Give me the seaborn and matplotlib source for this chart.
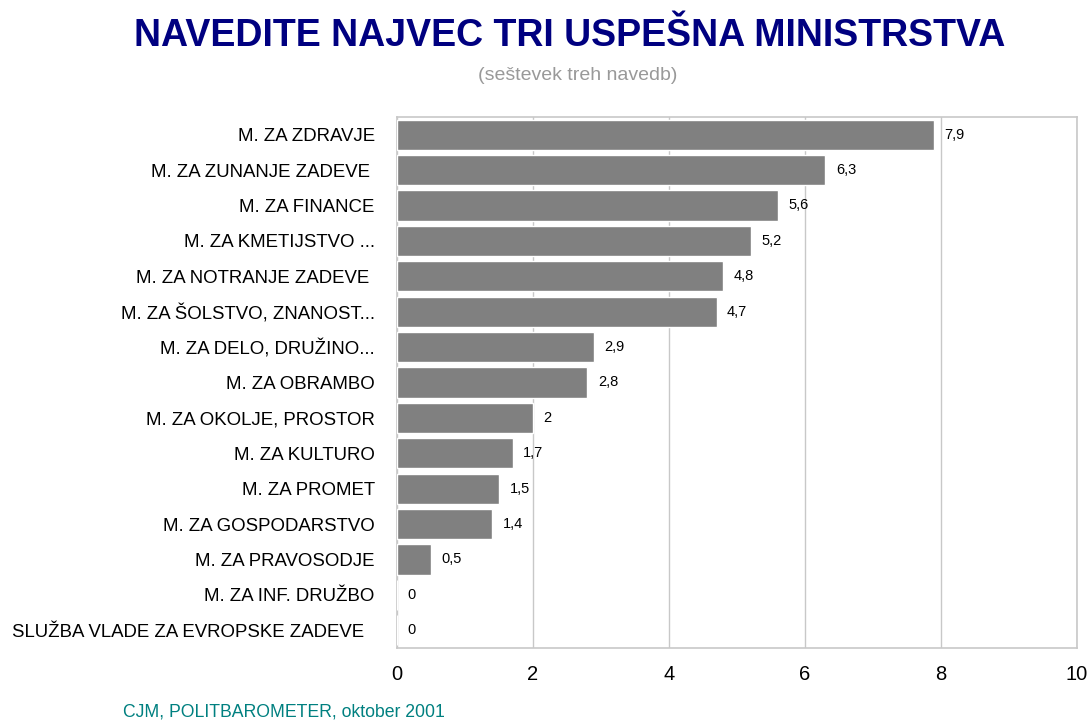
import matplotlib.pyplot as plt
import seaborn as sns
import pandas as pd

# Data
ministries = ['M. ZA ZDRAVJE', 'M. ZA ZUNANJE ZADEVE ', 'M. ZA FINANCE', 'M. ZA KMETIJSTVO ...',
              'M. ZA NOTRANJE ZADEVE ', 'M. ZA ŠOLSTVO, ZNANOST...', 'M. ZA DELO, DRUŽINO...',
              'M. ZA OBRAMBO', 'M. ZA OKOLJE, PROSTOR', 'M. ZA KULTURO', 'M. ZA PROMET',
              'M. ZA GOSPODARSTVO', 'M. ZA PRAVOSODJE', 'M. ZA INF. DRUŽBO',
              'SLUŽBA VLADE ZA EVROPSKE ZADEVE  ']
scores = [7.9, 6.3, 5.6, 5.2, 4.8, 4.7, 2.9, 2.8, 2.0, 1.7, 1.5, 1.4, 0.5, 0.0, 0.0]
labels = ['7,9', '6,3', '5,6', '5,2', '4,8', '4,7', '2,9', '2,8', '2', '1,7', '1,5', '1,4', '0,5', '0', '0']

df = pd.DataFrame({'ministry': ministries, 'score': scores})

sns.set_style('white')
plt.rcParams['font.family'] = ['Liberation Sans', 'DejaVu Sans']

fig = plt.figure(figsize=(10.91, 7.22), dpi=100)
ax = fig.add_axes([0.3639, 0.1025, 0.6233, 0.7355])

sns.barplot(data=df, x='score', y='ministry', color='#808080', saturation=1,
            width=0.85, ax=ax, zorder=3)

ax.set_xlim(0, 10)
ax.set_xticks([0, 2, 4, 6, 8, 10])
ax.xaxis.grid(True, color='#c8c8c8', linewidth=1, zorder=0)
ax.set_xlabel('')
ax.set_ylabel('')
for s in ax.spines.values():
    s.set_color('#c8c8c8')
    s.set_linewidth(1.2)
ax.tick_params(axis='x', labelsize=14.5, length=0, pad=12, labelcolor='black')
ax.tick_params(axis='y', labelsize=13.4, length=0, pad=16, labelcolor='black')

# value labels
for i, (v, t) in enumerate(zip(scores, labels)):
    ax.annotate(t, xy=(v, i), xytext=(7.5, 0), textcoords='offset points',
                va='center', ha='left', fontsize=10.5, color='black')

fig.text(0.522, 0.950, 'NAVEDITE NAJVEC TRI USPEŠNA MINISTRSTVA', ha='center', va='center',
         fontsize=27, fontweight='bold', color='#000080')
fig.text(0.5295, 0.896, '(seštevek treh navedb)', ha='center', va='center',
         fontsize=14, color='#999999')
fig.text(0.113, 0.014, 'CJM, POLITBAROMETER, oktober 2001', ha='left', va='center',
         fontsize=12.7, color='#008080')

plt.savefig('out.png', dpi=100)
